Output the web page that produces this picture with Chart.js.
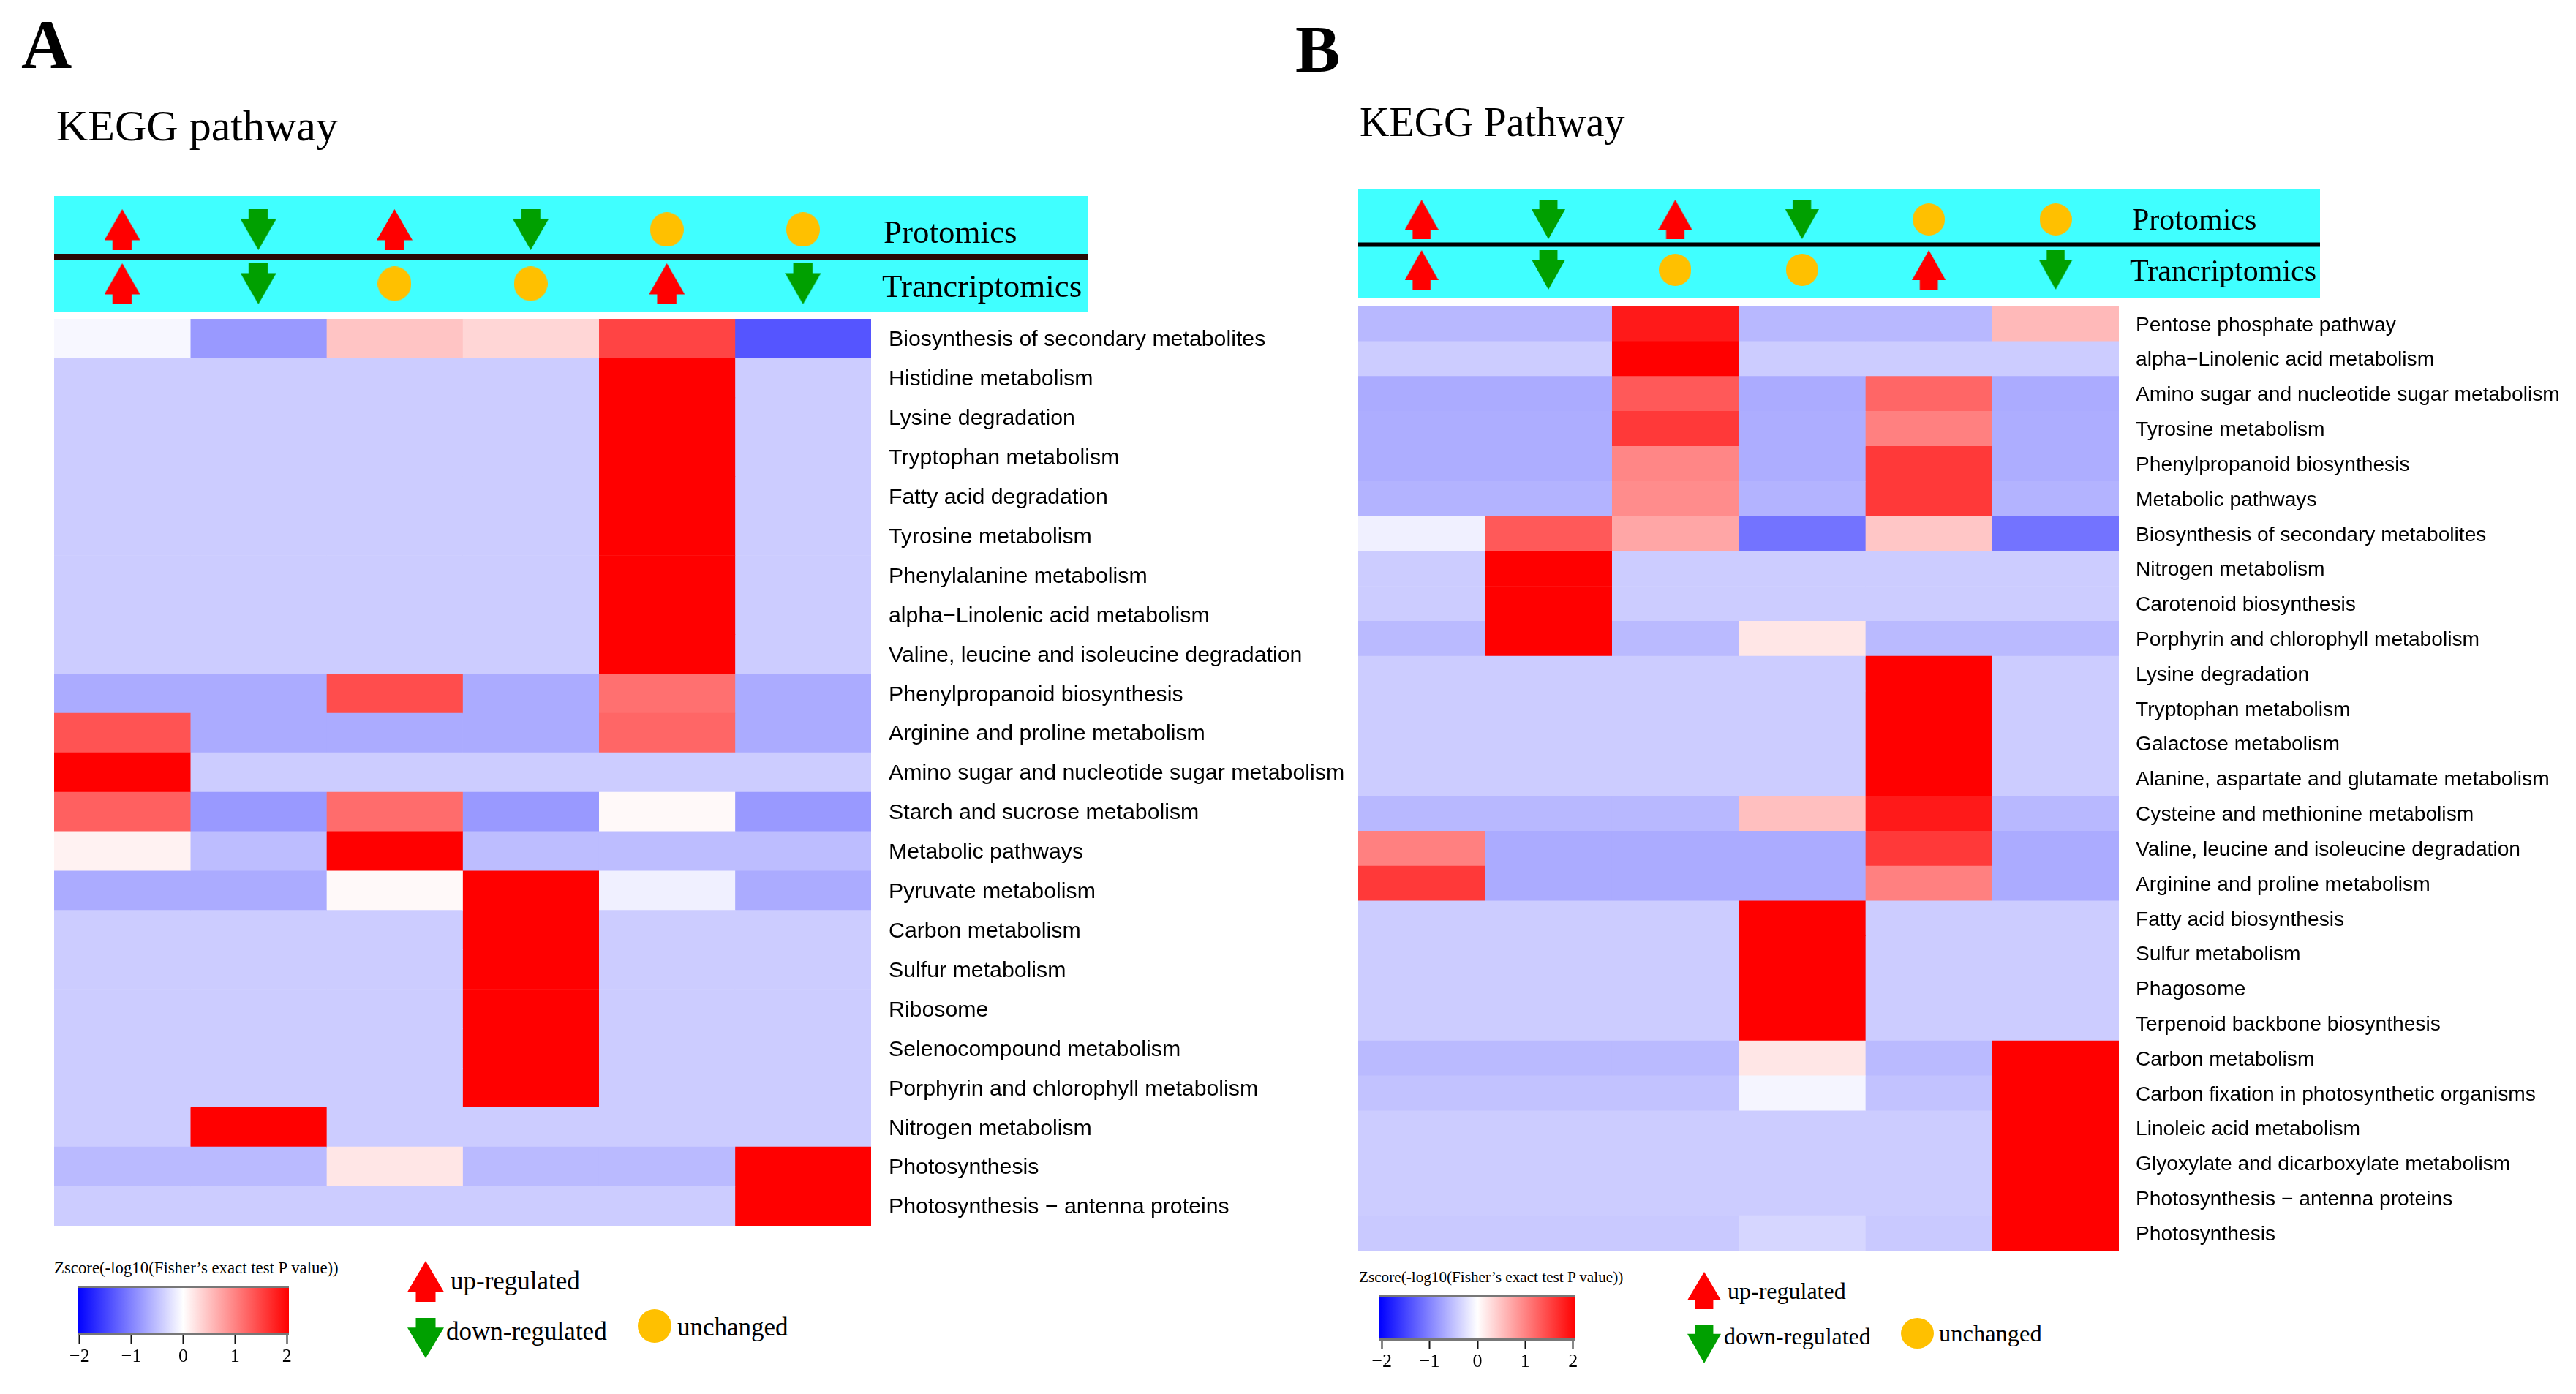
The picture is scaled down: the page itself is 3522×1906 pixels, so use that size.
<!DOCTYPE html>
<html>
<head>
<meta charset="utf-8">
<title>KEGG pathway heatmaps</title>
<script src="https://cdn.jsdelivr.net/npm/chart.js@4/dist/chart.umd.min.js"></script>
<style>
  html, body { margin: 0; background: #fff; }
  #page { position: relative; width: 3522px; height: 1906px; overflow: hidden; }
  #page canvas { position: absolute; }
  .txt { position: absolute; white-space: nowrap; color: #000; font-family: "Liberation Serif", serif; transform: translateY(-50%); line-height: 1; }
</style>
</head>
<body>
<div id="page"></div>
<script>
/* --------------- Panel A data --------------------- */
const pathwaysA = [
  'Biosynthesis of secondary metabolites', 'Histidine metabolism', 'Lysine degradation',
  'Tryptophan metabolism', 'Fatty acid degradation', 'Tyrosine metabolism',
  'Phenylalanine metabolism', 'alpha\u2212Linolenic acid metabolism', 'Valine, leucine and isoleucine degradation',
  'Phenylpropanoid biosynthesis', 'Arginine and proline metabolism', 'Amino sugar and nucleotide sugar metabolism',
  'Starch and sucrose metabolism', 'Metabolic pathways', 'Pyruvate metabolism',
  'Carbon metabolism', 'Sulfur metabolism', 'Ribosome',
  'Selenocompound metabolism', 'Porphyrin and chlorophyll metabolism', 'Nitrogen metabolism',
  'Photosynthesis', 'Photosynthesis \u2212 antenna proteins',
];
const zscoresA = [
  [-0.06, -0.8, 0.46, 0.32, 1.47, -1.33],
  [-0.4, -0.4, -0.4, -0.4, 2, -0.4],
  [-0.4, -0.4, -0.4, -0.4, 2, -0.4],
  [-0.4, -0.4, -0.4, -0.4, 2, -0.4],
  [-0.4, -0.4, -0.4, -0.4, 2, -0.4],
  [-0.4, -0.4, -0.4, -0.4, 2, -0.4],
  [-0.4, -0.4, -0.4, -0.4, 2, -0.4],
  [-0.4, -0.4, -0.4, -0.4, 2, -0.4],
  [-0.4, -0.4, -0.4, -0.4, 2, -0.4],
  [-0.66, -0.66, 1.4, -0.66, 1.12, -0.66],
  [1.35, -0.66, -0.66, -0.66, 1.2, -0.66],
  [2, -0.4, -0.4, -0.4, -0.4, -0.4],
  [1.25, -0.8, 1.15, -0.8, 0.05, -0.8],
  [0.1, -0.52, 2, -0.52, -0.52, -0.52],
  [-0.66, -0.66, 0.05, 2, -0.12, -0.66],
  [-0.4, -0.4, -0.4, 2, -0.4, -0.4],
  [-0.4, -0.4, -0.4, 2, -0.4, -0.4],
  [-0.4, -0.4, -0.4, 2, -0.4, -0.4],
  [-0.4, -0.4, -0.4, 2, -0.4, -0.4],
  [-0.4, -0.4, -0.4, 2, -0.4, -0.4],
  [-0.4, 2, -0.4, -0.4, -0.4, -0.4],
  [-0.54, -0.54, 0.2, -0.54, -0.54, 2],
  [-0.4, -0.4, -0.4, -0.4, -0.4, 2],
];

/* --------------- Panel B data --------------------- */
const pathwaysB = [
  'Pentose phosphate pathway', 'alpha\u2212Linolenic acid metabolism', 'Amino sugar and nucleotide sugar metabolism',
  'Tyrosine metabolism', 'Phenylpropanoid biosynthesis', 'Metabolic pathways',
  'Biosynthesis of secondary metabolites', 'Nitrogen metabolism', 'Carotenoid biosynthesis',
  'Porphyrin and chlorophyll metabolism', 'Lysine degradation', 'Tryptophan metabolism',
  'Galactose metabolism', 'Alanine, aspartate and glutamate metabolism', 'Cysteine and methionine metabolism',
  'Valine, leucine and isoleucine degradation', 'Arginine and proline metabolism', 'Fatty acid biosynthesis',
  'Sulfur metabolism', 'Phagosome', 'Terpenoid backbone biosynthesis',
  'Carbon metabolism', 'Carbon fixation in photosynthetic organisms', 'Linoleic acid metabolism',
  'Glyoxylate and dicarboxylate metabolism', 'Photosynthesis \u2212 antenna proteins', 'Photosynthesis',
];
const zscoresB = [
  [-0.56, -0.56, 1.8, -0.56, -0.56, 0.55],
  [-0.4, -0.4, 2, -0.4, -0.4, -0.4],
  [-0.66, -0.66, 1.3, -0.66, 1.2, -0.66],
  [-0.64, -0.64, 1.55, -0.64, 1.0, -0.64],
  [-0.64, -0.64, 0.95, -0.64, 1.55, -0.64],
  [-0.6, -0.6, 0.9, -0.6, 1.55, -0.6],
  [-0.12, 1.3, 0.7, -1.1, 0.45, -1.1],
  [-0.4, 2, -0.4, -0.4, -0.4, -0.4],
  [-0.4, 2, -0.4, -0.4, -0.4, -0.4],
  [-0.54, 2, -0.54, 0.2, -0.54, -0.54],
  [-0.4, -0.4, -0.4, -0.4, 2, -0.4],
  [-0.4, -0.4, -0.4, -0.4, 2, -0.4],
  [-0.4, -0.4, -0.4, -0.4, 2, -0.4],
  [-0.4, -0.4, -0.4, -0.4, 2, -0.4],
  [-0.56, -0.56, -0.56, 0.5, 1.8, -0.56],
  [1.0, -0.66, -0.66, -0.66, 1.55, -0.66],
  [1.55, -0.66, -0.66, -0.66, 1.0, -0.66],
  [-0.4, -0.4, -0.4, 2, -0.4, -0.4],
  [-0.4, -0.4, -0.4, 2, -0.4, -0.4],
  [-0.4, -0.4, -0.4, 2, -0.4, -0.4],
  [-0.4, -0.4, -0.4, 2, -0.4, -0.4],
  [-0.54, -0.54, -0.54, 0.2, -0.54, 2],
  [-0.48, -0.48, -0.48, -0.08, -0.48, 2],
  [-0.4, -0.4, -0.4, -0.4, -0.4, 2],
  [-0.4, -0.4, -0.4, -0.4, -0.4, 2],
  [-0.4, -0.4, -0.4, -0.4, -0.4, 2],
  [-0.42, -0.42, -0.42, -0.32, -0.42, 2],
];

/* --------------- Regulation status of each column --------------------- */
const protomics = ['up', 'down', 'up', 'down', 'same', 'same'];
const trancriptomics = ['up', 'down', 'same', 'same', 'up', 'down'];
const colorTicks = [-2, -1, 0, 1, 2];

const page = document.getElementById('page');

// z-score to blue-white-red
function zColor(z) {
  const t = Math.min(Math.abs(z) / 2, 1);
  const v = Math.round(255 * (1 - t));
  return z < 0 ? `rgb(${v},${v},255)` : `rgb(255,${v},${v})`;
}

function addCanvas(x, y, w, h) {
  const c = document.createElement('canvas');
  c.width = w;
  c.height = h;
  c.style.left = x + 'px';
  c.style.top = y + 'px';
  page.appendChild(c);
  return c;
}

function addText(str, x, y, size, extra) {
  const d = document.createElement('div');
  d.className = 'txt';
  d.textContent = str;
  d.style.left = x + 'px';
  d.style.top = y + 'px';
  d.style.fontSize = size + 'px';
  if (extra) d.style.fontWeight = extra;
  page.appendChild(d);
}

/* --------------- Arrow and circle symbols --------------------- */
function makeMarker(kind, w, h) {
  const c = document.createElement('canvas');
  c.width = w;
  c.height = h;
  const g = c.getContext('2d');
  if (kind === 'same') {
    g.fillStyle = '#ffc000';
    g.beginPath();
    g.ellipse(w / 2, h / 2, w / 2, h / 2, 0, 0, Math.PI * 2);
    g.fill();
    return c;
  }
  const stem = w * 0.27, neck = h * 0.76;
  if (kind === 'down') {
    g.translate(0, h);
    g.scale(1, -1);
  }
  g.fillStyle = kind === 'up' ? '#ff0000' : '#00a000';
  g.beginPath();
  g.moveTo(w / 2, 0);
  g.lineTo(w, neck);
  g.lineTo(w / 2 + stem, neck);
  g.lineTo(w / 2 + stem, h);
  g.lineTo(w / 2 - stem, h);
  g.lineTo(w / 2 - stem, neck);
  g.lineTo(0, neck);
  g.closePath();
  g.fill();
  return c;
}

/* --------------- Heatmap: stacked bars, one dataset per column --------------------- */
function drawHeatmap(box, labels, zscores, fontSize, labelGap) {
  const canvas = addCanvas(box.x, box.y, box.w + box.labelW, box.h);
  const datasets = protomics.map((_, col) => ({
    data: labels.map(() => 1),
    backgroundColor: zscores.map((row) => zColor(row[col])),
    barPercentage: 1,
    categoryPercentage: 1,
    borderWidth: 0,
  }));
  new Chart(canvas, {
    type: 'bar',
    data: { labels, datasets },
    options: {
      indexAxis: 'y',
      responsive: false,
      animation: false,
      devicePixelRatio: 1,
      layout: { autoPadding: false, padding: 0 },
      plugins: { legend: { display: false }, tooltip: { enabled: false } },
      scales: {
        x: { display: false, stacked: true, min: 0, max: protomics.length },
        y: {
          position: 'right',
          stacked: true,
          grid: { display: false },
          border: { display: false },
          afterFit: (s) => {
            s.width = box.labelW;
            s.paddingTop = 0;
            s.paddingBottom = 0;
          },
          ticks: {
            autoSkip: false,
            padding: labelGap,
            labelOffset: 2,
            color: '#000',
            font: { family: '"Liberation Sans"', size: fontSize },
          },
        },
      },
    },
  });
}

/* --------------- Cyan band with the regulation arrows --------------------- */
const bandBackground = {
  id: 'bandBackground',
  beforeDraw(chart) {
    const a = chart.chartArea;
    chart.ctx.fillStyle = '#40ffff';
    chart.ctx.fillRect(a.left, a.top, a.width, a.height);
  },
};

function drawBand(box, markers, lineWidth, lineColor) {
  const canvas = addCanvas(box.x, box.y, box.w, box.h);
  const statusSet = (statuses, y) => ({
    data: statuses.map((_, i) => ({ x: i + 0.5, y })),
    pointStyle: statuses.map((s) => markers[s]),
    pointRadius: 20,
    showLine: false,
  });
  new Chart(canvas, {
    type: 'scatter',
    data: {
      datasets: [
        {
          data: [{ x: 0, y: 1.5 }, { x: box.xMax, y: 1.5 }],
          showLine: true,
          borderColor: lineColor,
          borderWidth: lineWidth,
          pointRadius: 0,
        },
        statusSet(protomics, 2),
        statusSet(trancriptomics, 1),
      ],
    },
    options: {
      responsive: false,
      animation: false,
      devicePixelRatio: 1,
      layout: { autoPadding: false, padding: 0 },
      plugins: { legend: { display: false }, tooltip: { enabled: false } },
      scales: {
        x: { display: false, min: 0, max: box.xMax },
        y: { display: false, min: box.yMin, max: box.yMax },
      },
    },
    plugins: [bandBackground],
  });
}

/* --------------- Colour key --------------------- */
function drawColorKey(box, edge) {
  const pad = 30, scaleH = 52;
  const canvas = addCanvas(box.x - pad, box.y, box.w + pad * 2, box.h + scaleH);
  new Chart(canvas, {
    type: 'bar',
    data: {
      labels: ['Zscore'],
      datasets: [{
        data: [[-edge, edge]],
        barPercentage: 1,
        categoryPercentage: 1,
        inflateAmount: 0,
        borderSkipped: false,
        borderColor: '#777',
        borderWidth: { top: 3, bottom: 4, left: 0, right: 0 },
        backgroundColor: (ctx) => {
          const a = ctx.chart.chartArea;
          if (!a) return '#fff';
          const grad = ctx.chart.ctx.createLinearGradient(a.left, 0, a.right, 0);
          colorTicks.forEach((v) => grad.addColorStop((v + 2) / 4, zColor(v)));
          return grad;
        },
      }],
    },
    options: {
      indexAxis: 'y',
      responsive: false,
      animation: false,
      devicePixelRatio: 1,
      layout: { autoPadding: false, padding: { left: pad, right: pad } },
      plugins: { legend: { display: false }, tooltip: { enabled: false } },
      scales: {
        y: { display: false },
        x: {
          min: -edge,
          max: edge,
          afterFit: (s) => { s.height = scaleH; },
          afterBuildTicks: (s) => { s.ticks = colorTicks.map((v) => ({ value: v })); },
          border: { display: false },
          grid: { drawOnChartArea: false, drawTicks: true, tickLength: 11, tickColor: '#111', tickWidth: 2 },
          ticks: {
            autoSkip: false,
            maxRotation: 0,
            padding: 3,
            color: '#000',
            font: { family: '"Liberation Serif"', size: 26 },
            callback: (v) => String(v).replace('-', '\u2212'),
          },
        },
      },
    },
  });
}

function placeMarker(kind, x, y, w, h) {
  const c = makeMarker(kind, w, h);
  c.style.left = x + 'px';
  c.style.top = y + 'px';
  page.appendChild(c);
}

/* --------------- Panel A --------------------- */
addText('A', 29, 61, 96, 'bold');
addText('KEGG pathway', 77, 172, 60);
drawBand({ x: 74, y: 268, w: 1413, h: 159, xMax: 7.59, yMin: 0.473, yMax: 2.62 },
  { up: makeMarker('up', 49, 56), down: makeMarker('down', 49, 56), same: makeMarker('same', 46, 47) }, 8, '#2a0a05');
addText('Protomics', 1208, 317, 45);
addText('Trancriptomics', 1206, 391, 45);
drawHeatmap({ x: 74, y: 436, w: 1117, h: 1240, labelW: 680 }, pathwaysA, zscoresA, 30.3, 16);
addText('Zscore(-log10(Fisher\u2019s exact test P value))', 74, 1734, 22.8);
drawColorKey({ x: 106, y: 1758, w: 289, h: 68 }, 2.04);
placeMarker('up', 557, 1724, 50, 56);
addText('up-regulated', 616, 1751, 35);
placeMarker('down', 557, 1802, 50, 55);
addText('down-regulated', 610, 1820, 35);
placeMarker('same', 872, 1790, 46, 46);
addText('unchanged', 926, 1814, 35);

/* --------------- Panel B --------------------- */
addText('B', 1771, 67, 92, 'bold');
addText('KEGG Pathway', 1859, 167, 56);
drawBand({ x: 1857, y: 258, w: 1315, h: 149, xMax: 7.585, yMin: 0.449, yMax: 2.609 },
  { up: makeMarker('up', 46, 54), down: makeMarker('down', 46, 54), same: makeMarker('same', 44, 44) }, 6, '#000');
addText('Protomics', 2915, 300, 42);
addText('Trancriptomics', 2912, 370, 42);
drawHeatmap({ x: 1857, y: 419, w: 1040, h: 1291, labelW: 625 }, pathwaysB, zscoresB, 28.2, 15);
addText('Zscore(-log10(Fisher\u2019s exact test P value))', 1858, 1747, 21.2);
drawColorKey({ x: 1886, y: 1771, w: 268, h: 62 }, 2.05);
placeMarker('up', 2307, 1739, 46, 51);
addText('up-regulated', 2362, 1765, 32);
placeMarker('down', 2307, 1811, 46, 53);
addText('down-regulated', 2357, 1827, 32);
placeMarker('same', 2599, 1802, 45, 42);
addText('unchanged', 2651, 1823, 32.5);
</script>
</body>
</html>
